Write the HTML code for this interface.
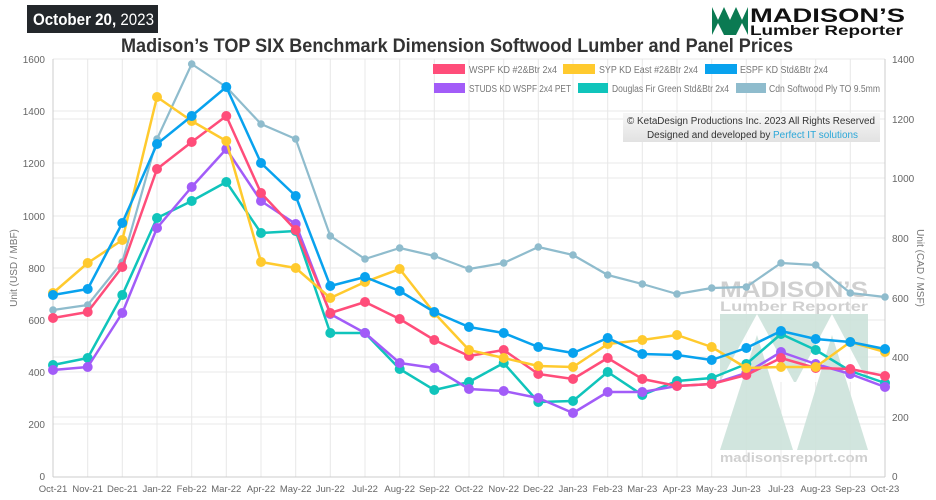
<!DOCTYPE html>
<html><head><meta charset="utf-8"><style>
html,body{margin:0;padding:0;background:#fff;}
svg{display:block;font-family:"Liberation Sans",Arial,sans-serif;}
</style></head><body>
<svg width="936" height="500" viewBox="0 0 936 500" xmlns="http://www.w3.org/2000/svg">
<defs>
<marker id="mP" markerUnits="userSpaceOnUse" markerWidth="12" markerHeight="12" refX="6" refY="6"><circle cx="6" cy="6" r="5" fill="#ff4d7a"/></marker>
<marker id="mY" markerUnits="userSpaceOnUse" markerWidth="12" markerHeight="12" refX="6" refY="6"><circle cx="6" cy="6" r="5" fill="#ffca2e"/></marker>
<marker id="mB" markerUnits="userSpaceOnUse" markerWidth="12" markerHeight="12" refX="6" refY="6"><circle cx="6" cy="6" r="5" fill="#08a2ee"/></marker>
<marker id="mU" markerUnits="userSpaceOnUse" markerWidth="12" markerHeight="12" refX="6" refY="6"><circle cx="6" cy="6" r="5" fill="#a25cf8"/></marker>
<marker id="mT" markerUnits="userSpaceOnUse" markerWidth="12" markerHeight="12" refX="6" refY="6"><circle cx="6" cy="6" r="5" fill="#10c4bb"/></marker>
<marker id="mG" markerUnits="userSpaceOnUse" markerWidth="10" markerHeight="10" refX="5" refY="5"><circle cx="5" cy="5" r="3.8" fill="#8fbccd"/></marker>
<linearGradient id="cg" x1="0" y1="0" x2="0" y2="1"><stop offset="0" stop-color="#f7f7f7"/><stop offset="1" stop-color="#e2e2e2"/></linearGradient>
</defs>
<rect x="27" y="5" width="131" height="28" fill="#23272b"/>
<text x="33" y="25" font-size="17" fill="#fff" font-weight="bold" textLength="121" lengthAdjust="spacingAndGlyphs">October 20,<tspan font-weight="normal"> 2023</tspan></text>
<rect x="712" y="7" width="36" height="28" fill="#0b7a52"/>
<polygon points="712,7 718,20 724,7" fill="#fff"/><polygon points="724,7 730,20 736,7" fill="#fff"/><polygon points="736,7 742,20 748,7" fill="#fff"/>
<polygon points="712,35 718,23 724,35" fill="#fff"/><polygon points="736,35 742,23 748,35" fill="#fff"/>
<text x="750" y="22" font-size="19" font-weight="bold" fill="#111" textLength="155" lengthAdjust="spacingAndGlyphs">MADISON’S</text>
<text x="750" y="35" font-size="14" font-weight="bold" fill="#111" textLength="153" lengthAdjust="spacingAndGlyphs">Lumber Reporter</text>
<text x="121" y="52" font-size="19" font-weight="bold" fill="#333" textLength="672" lengthAdjust="spacingAndGlyphs">Madison’s TOP SIX Benchmark Dimension Softwood Lumber and Panel Prices</text>
<g stroke="#e8e8e8" stroke-width="1">
<line x1="53" y1="59" x2="885" y2="59"/><line x1="53" y1="111" x2="885" y2="111"/><line x1="53" y1="163" x2="885" y2="163"/><line x1="53" y1="216" x2="885" y2="216"/><line x1="53" y1="268" x2="885" y2="268"/><line x1="53" y1="320" x2="885" y2="320"/><line x1="53" y1="372" x2="885" y2="372"/><line x1="53" y1="424" x2="885" y2="424"/>
<line x1="53" y1="119" x2="885" y2="119"/><line x1="53" y1="178" x2="885" y2="178"/><line x1="53" y1="238" x2="885" y2="238"/><line x1="53" y1="298" x2="885" y2="298"/><line x1="53" y1="357" x2="885" y2="357"/><line x1="53" y1="417" x2="885" y2="417"/>
<line x1="87.7" y1="59" x2="87.7" y2="477"/><line x1="122.3" y1="59" x2="122.3" y2="477"/><line x1="157" y1="59" x2="157" y2="477"/><line x1="191.7" y1="59" x2="191.7" y2="477"/><line x1="226.3" y1="59" x2="226.3" y2="477"/><line x1="261" y1="59" x2="261" y2="477"/><line x1="295.7" y1="59" x2="295.7" y2="477"/><line x1="330.3" y1="59" x2="330.3" y2="477"/><line x1="365" y1="59" x2="365" y2="477"/><line x1="399.7" y1="59" x2="399.7" y2="477"/><line x1="434.3" y1="59" x2="434.3" y2="477"/><line x1="469" y1="59" x2="469" y2="477"/><line x1="503.7" y1="59" x2="503.7" y2="477"/><line x1="538.3" y1="59" x2="538.3" y2="477"/><line x1="573" y1="59" x2="573" y2="477"/><line x1="607.7" y1="59" x2="607.7" y2="477"/><line x1="642.3" y1="59" x2="642.3" y2="477"/><line x1="677" y1="59" x2="677" y2="477"/><line x1="711.7" y1="59" x2="711.7" y2="477"/><line x1="746.3" y1="59" x2="746.3" y2="477"/><line x1="781" y1="59" x2="781" y2="477"/><line x1="815.7" y1="59" x2="815.7" y2="477"/><line x1="850.3" y1="59" x2="850.3" y2="477"/>
</g>
<g stroke="#ccc" stroke-width="1"><line x1="53" y1="59" x2="53" y2="477"/><line x1="885" y1="59" x2="885" y2="477"/><line x1="53" y1="477" x2="885" y2="477"/></g>
<g font-size="10" fill="#666" text-anchor="end">
<text x="45" y="63">1600</text><text x="45" y="115">1400</text><text x="45" y="167">1200</text><text x="45" y="220">1000</text><text x="45" y="272">800</text><text x="45" y="324">600</text><text x="45" y="376">400</text><text x="45" y="428">200</text><text x="45" y="480">0</text>
</g>
<g font-size="10" fill="#666">
<text x="892" y="63">1400</text><text x="892" y="123">1200</text><text x="892" y="182">1000</text><text x="892" y="242">800</text><text x="892" y="302">600</text><text x="892" y="361">400</text><text x="892" y="421">200</text><text x="892" y="480">0</text>
</g>
<text transform="translate(17,268) rotate(-90)" font-size="10" fill="#777" text-anchor="middle">Unit (USD / MBF)</text>
<text transform="translate(917,268) rotate(90)" font-size="10" fill="#777" text-anchor="middle">Unit (CAD / MSF)</text>
<g font-size="9.5" fill="#666" text-anchor="middle">
<text x="53" y="492">Oct-21</text><text x="87.7" y="492">Nov-21</text><text x="122.3" y="492">Dec-21</text><text x="157" y="492">Jan-22</text><text x="191.7" y="492">Feb-22</text><text x="226.3" y="492">Mar-22</text><text x="261" y="492">Apr-22</text><text x="295.7" y="492">May-22</text><text x="330.3" y="492">Jun-22</text><text x="365" y="492">Jul-22</text><text x="399.7" y="492">Aug-22</text><text x="434.3" y="492">Sep-22</text><text x="469" y="492">Oct-22</text><text x="503.7" y="492">Nov-22</text><text x="538.3" y="492">Dec-22</text><text x="573" y="492">Jan-23</text><text x="607.7" y="492">Feb-23</text><text x="642.3" y="492">Mar-23</text><text x="677" y="492">Apr-23</text><text x="711.7" y="492">May-23</text><text x="746.3" y="492">Jun-23</text><text x="781" y="492">Jul-23</text><text x="815.7" y="492">Aug-23</text><text x="850.3" y="492">Sep-23</text><text x="885" y="492">Oct-23</text>
</g>
<g opacity="0.9">
<rect x="720" y="314" width="148" height="68" fill="#cde3db"/>
<polygon points="757,314 720,382 794,382" fill="#fff"/><polygon points="832,314 796,382 868,382" fill="#fff"/>
<polygon points="757,335 720,450 793,450" fill="#cde3db"/><polygon points="832,335 797,450 868,450" fill="#cde3db"/>
<text x="720" y="297" font-size="22" font-weight="bold" fill="#ccc" textLength="148" lengthAdjust="spacingAndGlyphs">MADISON’S</text>
<text x="720" y="311" font-size="14" font-weight="bold" fill="#ccc" textLength="148" lengthAdjust="spacingAndGlyphs">Lumber Reporter</text>
<text x="720" y="462" font-size="13" font-weight="bold" fill="#ccc" textLength="148" lengthAdjust="spacingAndGlyphs">madisonsreport.com</text>
</g>
<g fill="none" stroke-width="2.5" stroke-linejoin="round">
<polyline stroke="#8fbccd" stroke-width="2.2" marker-start="url(#mG)" marker-mid="url(#mG)" marker-end="url(#mG)" points="53,310 87.7,305 122.3,262 157,139 191.7,64 226.3,87 261,124 295.7,139 330.3,236 365,259 399.7,248 434.3,256 469,269 503.7,263 538.3,247 573,255 607.7,275 642.3,284 677,294 711.7,288 746.3,287 781,263 815.7,265 850.3,293 885,297"/>
<polyline stroke="#10c4bb" marker-start="url(#mT)" marker-mid="url(#mT)" marker-end="url(#mT)" points="53,365 87.7,358 122.3,295 157,218 191.7,201 226.3,182 261,233 295.7,231 330.3,333 365,333 399.7,369 434.3,390 469,382 503.7,363 538.3,402 573,401 607.7,372 642.3,395 677,381 711.7,378 746.3,364 781,334 815.7,350 850.3,371 885,383"/>
<polyline stroke="#a25cf8" marker-start="url(#mU)" marker-mid="url(#mU)" marker-end="url(#mU)" points="53,370 87.7,367 122.3,313 157,228 191.7,187 226.3,149 261,201 295.7,224 330.3,314 365,333 399.7,363 434.3,368 469,389 503.7,391 538.3,398 573,413 607.7,392 642.3,392 677,386 711.7,384 746.3,373 781,352 815.7,364 850.3,374 885,387"/>
<polyline stroke="#ff4d7a" marker-start="url(#mP)" marker-mid="url(#mP)" marker-end="url(#mP)" points="53,318 87.7,312 122.3,267 157,169 191.7,142 226.3,116 261,193 295.7,230 330.3,313 365,302 399.7,319 434.3,340 469,356 503.7,350 538.3,374 573,379 607.7,358 642.3,379 677,386 711.7,384 746.3,375 781,358 815.7,368 850.3,369 885,376"/>
<polyline stroke="#ffca2e" marker-start="url(#mY)" marker-mid="url(#mY)" marker-end="url(#mY)" points="53,293 87.7,263 122.3,240 157,97 191.7,121 226.3,141 261,262 295.7,268 330.3,298 365,282 399.7,269 434.3,313 469,350 503.7,358 538.3,366 573,367 607.7,344 642.3,340 677,335 711.7,347 746.3,368 781,367 815.7,367 850.3,342 885,352"/>
<polyline stroke="#08a2ee" marker-start="url(#mB)" marker-mid="url(#mB)" marker-end="url(#mB)" points="53,295 87.7,289 122.3,223 157,144 191.7,116 226.3,87 261,163 295.7,196 330.3,286 365,277 399.7,291 434.3,312 469,327 503.7,333 538.3,347 573,353 607.7,338 642.3,354 677,355 711.7,360 746.3,348 781,331 815.7,339 850.3,342 885,349"/>
</g>
<g font-size="10" fill="#777">
<rect x="433" y="64" width="32" height="10" fill="#ff4d7a"/><text x="469" y="73" textLength="88" lengthAdjust="spacingAndGlyphs">WSPF KD #2&amp;Btr 2x4</text>
<rect x="563" y="64" width="32" height="10" fill="#ffca2e"/><text x="599" y="73" textLength="99" lengthAdjust="spacingAndGlyphs">SYP KD East #2&amp;Btr 2x4</text>
<rect x="705" y="64" width="32" height="10" fill="#08a2ee"/><text x="740" y="73" textLength="88" lengthAdjust="spacingAndGlyphs">ESPF KD Std&amp;Btr 2x4</text>
<rect x="434" y="83" width="31" height="10" fill="#a25cf8"/><text x="469" y="92" textLength="102" lengthAdjust="spacingAndGlyphs">STUDS KD WSPF 2x4 PET</text>
<rect x="578" y="83" width="30" height="10" fill="#10c4bb"/><text x="612" y="92" textLength="117" lengthAdjust="spacingAndGlyphs">Douglas Fir Green Std&amp;Btr 2x4</text>
<rect x="736" y="83" width="30" height="10" fill="#8fbccd"/><text x="769" y="92" textLength="111" lengthAdjust="spacingAndGlyphs">Cdn Softwood Ply TO 9.5mm</text>
</g>
<rect x="623" y="113" width="257" height="29" fill="url(#cg)"/>
<text x="627" y="124" font-size="10" fill="#333" textLength="248" lengthAdjust="spacingAndGlyphs">© KetaDesign Productions Inc. 2023 All Rights Reserved</text>
<text x="647" y="138" font-size="10" fill="#333" textLength="211" lengthAdjust="spacingAndGlyphs">Designed and developed by <tspan fill="#2aa7d8">Perfect IT solutions</tspan></text>
</svg>
</body></html>
